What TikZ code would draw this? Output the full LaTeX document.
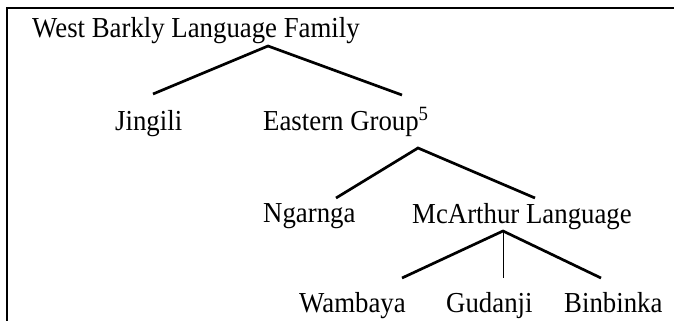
\documentclass[tikz,border=0pt]{standalone}
\usepackage{fontspec}
\usepackage{graphicx}
\setmainfont{Liberation Serif}
\newcommand{\tallt}[1]{\scalebox{1}[1.08]{#1}}
\begin{document}
\begin{tikzpicture}[x=1bp,y=-1bp,
  lbl/.style={anchor=base west,inner sep=0pt,font=\fontsize{26.8bp}{30bp}\selectfont},
  branch/.style={line width=2.7bp,line join=miter},
  thinbranch/.style={line width=1bp},
  frame/.style={line width=2bp}]
\useasboundingbox (0,0) rectangle (674,321);
% frame
\coordinate (tl) at (7,8);
\coordinate (tr) at (674,8);
\coordinate (bl) at (7,321);
\draw[frame] (tr) -- (tl) -- (bl);
% labels
\node[lbl] (root) at (32,37) {\tallt{West Barkly Language Family}};
\node[lbl] (jing) at (115,130) {\tallt{Jingili}};
\node[lbl] (east) at (263,130) {\tallt{Eastern Group\textsuperscript{5}}};
\node[lbl] (ngar) at (263,222) {\tallt{Ngarnga}};
\node[lbl] (mca) at (412,223) {\tallt{McArthur Language}};
\node[lbl] (wam) at (299,312) {\tallt{Wambaya}};
\node[lbl] (gud) at (446,312) {\tallt{Gudanji}};
\node[lbl] (bin) at (564,312) {\tallt{Binbinka}};
% branch points
\coordinate (a1) at (268,46);
\coordinate (j1) at (153,94);
\coordinate (e1) at (402,95);
\coordinate (a2) at (418,148);
\coordinate (n2) at (336,198);
\coordinate (m2) at (535,198);
\coordinate (a3) at (503,231);
\coordinate (w3) at (402,278);
\coordinate (g3) at (503,278);
\coordinate (b3) at (601,278);
\draw[branch] (j1) -- (a1) -- (e1);
\draw[branch] (n2) -- (a2) -- (m2);
\draw[branch] (w3) -- (a3) -- (b3);
\draw[thinbranch] (a3) -- (g3);
\end{tikzpicture}
\end{document}
